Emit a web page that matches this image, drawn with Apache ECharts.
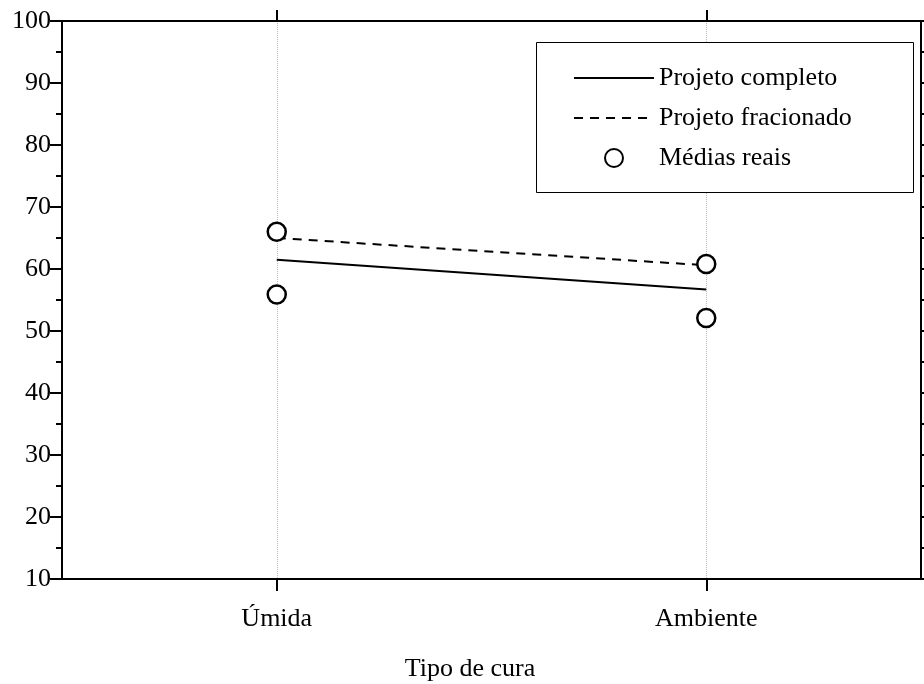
<!DOCTYPE html>
<html>
<head>
<meta charset="utf-8">
<script src="https://cdn.jsdelivr.net/npm/echarts@6/dist/echarts.min.js"></script>
<style>
  html, body { margin: 0; padding: 0; background: #fff; }
  #chart { width: 924px; height: 684px; }
</style>
</head>
<body>
<div id="chart"></div>
<script>
const categories = ["Úmida", "Ambiente"];
const projetoCompleto = [61.5, 56.7];
const projetoFracionado = [65.0, 60.6];
// two observed means per curing type
const mediasAlta = [66.0, 60.8];
const mediasBaixa = [55.9, 52.1];

const FONT = "Liberation Serif";

const chart = echarts.init(document.getElementById("chart"), null, { renderer: "canvas" });

const scatterData = [];
categories.forEach((c, i) => {
  scatterData.push([c, mediasAlta[i]]);
  scatterData.push([c, mediasBaixa[i]]);
});

const tickStyle = { color: "#000", width: 2 };

chart.setOption({
  animation: false,
  backgroundColor: "#fff",
  textStyle: { fontFamily: FONT, color: "#000" },
  grid: { left: 62, right: 3, top: 21, bottom: 105, outerBoundsMode: "none", containLabel: false },
  xAxis: [
    {
      type: "category",
      data: categories,
      position: "bottom",
      boundaryGap: true,
      axisLine: { lineStyle: tickStyle },
      axisTick: { show: true, interval: 0, alignWithLabel: true, length: 12, lineStyle: tickStyle },
      axisLabel: { color: "#000", fontSize: 26, fontFamily: FONT, margin: 27 },
      splitLine: { show: true, interval: 0, alignWithLabel: true, lineStyle: { color: "#bbb", type: "dotted", width: 1 } },
      name: "Tipo de cura",
      nameLocation: "middle",
      nameGap: 77,
      nameTextStyle: { color: "#000", fontSize: 26, fontFamily: FONT, padding: [0, 43, 0, 0] },
    },
    {
      type: "category",
      data: categories,
      position: "top",
      boundaryGap: true,
      axisLine: { show: true, lineStyle: tickStyle },
      axisTick: { show: true, interval: 0, alignWithLabel: true, length: 11, lineStyle: tickStyle },
      axisLabel: { show: false, interval: 0 },
      splitLine: { show: false },
    },
  ],
  yAxis: [
    {
      type: "value",
      min: 10,
      max: 100,
      interval: 10,
      position: "left",
      axisLine: { show: true, lineStyle: tickStyle },
      axisTick: { show: true, length: 12, lineStyle: tickStyle },
      minorTick: { show: true, splitNumber: 2, length: 6, lineStyle: tickStyle },
      axisLabel: { color: "#000", fontSize: 26, fontFamily: FONT, margin: 11 },
      splitLine: { show: false },
    },
    {
      type: "value",
      min: 10,
      max: 100,
      interval: 10,
      position: "right",
      axisLine: { show: true, lineStyle: tickStyle },
      axisTick: { show: true, length: 12, lineStyle: tickStyle },
      minorTick: { show: true, splitNumber: 2, length: 6, lineStyle: tickStyle },
      axisLabel: { show: false },
      splitLine: { show: false },
    },
  ],
  graphic: [
    {
      type: "rect",
      shape: { x: 536.5, y: 42.5, width: 377, height: 150 },
      style: { fill: "#fff", stroke: "#000", lineWidth: 1 },
      z: 90,
    },
  ],
  legend: {
    orient: "vertical",
    left: 573,
    top: 65,
    padding: 0,
    itemWidth: 80,
    itemHeight: 18,
    itemGap: 14,
    z: 100,
    textStyle: { color: "#000", fontSize: 26, fontFamily: FONT, lineHeight: 26 },
    data: [
      { name: "Projeto completo", itemStyle: { opacity: 0 } },
      { name: "Projeto fracionado", itemStyle: { opacity: 0 } },
      { name: "Médias reais" },
    ],
  },
  series: [
    {
      name: "Projeto completo",
      type: "line",
      data: projetoCompleto,
      symbol: "none",
      lineStyle: { color: "#000", width: 2, type: "solid" },
      itemStyle: { color: "#000" },
      z: 2,
    },
    {
      name: "Projeto fracionado",
      type: "line",
      data: projetoFracionado,
      symbol: "none",
      lineStyle: { color: "#000", width: 2, type: [9, 7] },
      itemStyle: { color: "#000" },
      z: 2,
    },
    {
      name: "Médias reais",
      type: "scatter",
      data: scatterData,
      symbol: "circle",
      symbolSize: 18,
      itemStyle: { color: "#fff", borderColor: "#000", borderWidth: 2.5, opacity: 1 },
      z: 5,
    },
  ],
});
</script>
</body>
</html>
